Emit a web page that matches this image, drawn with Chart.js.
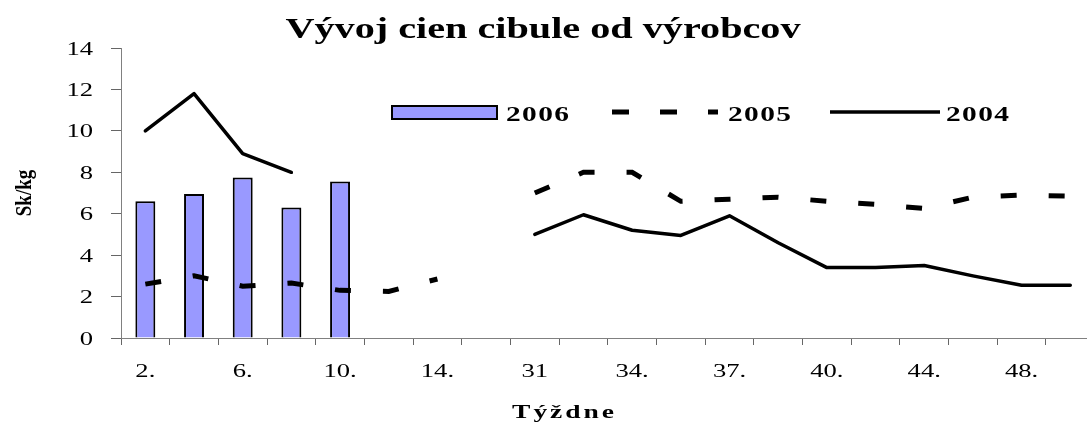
<!DOCTYPE html>
<html>
<head>
<meta charset="utf-8">
<script src="https://cdn.jsdelivr.net/npm/chart.js@4"></script>
<style>
  html, body { margin: 0; padding: 0; background: #fff; overflow: hidden; }
  #wrap { width: 1100px; height: 424px; }
</style>
</head>
<body>
<div id="wrap"><canvas id="onionChart" width="1100" height="424"></canvas></div>
<script>
// Weeks on the category axis (only every other one is labelled)
const weekLabels = ['2.', '4.', '6.', '8.', '10.', '12.', '14.', '16.', '31', '32.',
                    '34.', '35.', '37.', '38.', '40.', '42.', '44.', '46.', '48.', '50.'];
const yTicks = [0, 2, 4, 6, 8, 10, 12, 14];

// Prices Sk/kg
const prices2006 = [6.6, 6.95, 7.75, 6.3, 7.55, null, null, null, null, null,
                    null, null, null, null, null, null, null, null, null, null];
const prices2005 = [2.6, 3.0, 2.5, 2.65, 2.3, 2.25, 2.85, null, 7.0, 8.0,
                    8.0, 6.6, 6.7, 6.8, 6.6, 6.45, 6.25, 6.8, 6.9, 6.85];
const prices2004 = [10.0, 11.8, 8.9, 8.0, null, null, null, null, 5.0, 5.95,
                    5.2, 4.95, 5.9, 4.6, 3.4, 3.4, 3.5, 3.0, 2.55, 2.55];

const serif = '"Liberation Serif", "Times New Roman", serif';

// the original picture is stretched sideways, so text gets a horizontal scale
function drawText(ctx, text, x, y, font, sx, ls, align) {
    ctx.save();
    ctx.translate(x, y);
    ctx.scale(sx, 1);
    ctx.font = font;
    ctx.letterSpacing = ls + 'px';
    ctx.fillStyle = '#000';
    ctx.textAlign = align;
    ctx.textBaseline = 'alphabetic';
    ctx.fillText(text, align === 'center' ? ls / 2 : 0, 0);
    ctx.restore();
}

// Tick labels, titles + legend drawn by hand, Excel style
const decorPlugin = {
    id: 'decor',
    afterDraw(chart) {
        const ctx = chart.ctx;
        const ds = chart.data.datasets;
        const xs = chart.scales.x;
        const ys = chart.scales.y;
        const tickFont = '19px ' + serif;

        weekLabels.forEach((lab, i) => {
            if (i % 2 === 0) drawText(ctx, lab, xs.getPixelForValue(i), xs.top + 39, tickFont, 1.4, 0, 'center');
        });
        yTicks.forEach(v => {
            drawText(ctx, String(v), 93, ys.getPixelForValue(v) + 6.5, tickFont, 1.4, 0, 'right');
        });

        drawText(ctx, 'Vývoj cien cibule od výrobcov', 543, 38, 'bold 30px ' + serif, 1.34, 0, 'center');
        drawText(ctx, 'Týždne', 563, 418, 'bold 19px ' + serif, 1.45, 2, 'center');

        // y title, rotated; drawn a bit squeezed like the original
        ctx.save();
        ctx.translate(31, 193);
        ctx.rotate(-Math.PI / 2);
        ctx.scale(1, 1.25);
        ctx.font = 'bold 19px ' + serif;
        ctx.fillStyle = '#000';
        ctx.textAlign = 'center';
        ctx.fillText('Sk/kg', 0, 0);
        ctx.restore();

        // legend
        const ly = 112;
        ctx.save();
        ctx.fillStyle = ds[0].backgroundColor;
        ctx.strokeStyle = ds[0].borderColor;
        ctx.lineWidth = 2;
        ctx.fillRect(392, 106, 105, 13);
        ctx.strokeRect(392, 106, 105, 13);

        ctx.strokeStyle = ds[1].borderColor;
        ctx.lineWidth = ds[1].borderWidth;
        ctx.setLineDash([17, 31]);
        ctx.beginPath();
        ctx.moveTo(612, ly);
        ctx.lineTo(718, ly);
        ctx.stroke();

        ctx.setLineDash([]);
        ctx.strokeStyle = ds[2].borderColor;
        ctx.lineWidth = ds[2].borderWidth;
        ctx.beginPath();
        ctx.moveTo(830, ly);
        ctx.lineTo(940, ly);
        ctx.stroke();
        ctx.restore();

        const lf = 'bold 21px ' + serif;
        drawText(ctx, ds[0].label, 506, 121, lf, 1.4, 1, 'left');
        drawText(ctx, ds[1].label, 728, 121, lf, 1.4, 1, 'left');
        drawText(ctx, ds[2].label, 946, 121, lf, 1.4, 1, 'left');
    }
};

const ctx = document.getElementById('onionChart').getContext('2d');
new Chart(ctx, {
    type: 'bar',
    data: {
        labels: weekLabels,
        datasets: [
            {
                type: 'bar',
                label: '2006',
                data: prices2006,
                backgroundColor: '#9999FF',
                borderColor: '#000000',
                borderWidth: 2,
                barPercentage: 0.41,
                categoryPercentage: 1,
                order: 3
            },
            {
                type: 'line',
                label: '2005',
                data: prices2005,
                borderColor: '#000000',
                borderWidth: 5,
                borderDash: [16, 32],
                borderCapStyle: 'butt',
                pointRadius: 0,
                spanGaps: false,
                tension: 0,
                order: 2
            },
            {
                type: 'line',
                label: '2004',
                data: prices2004,
                borderColor: '#000000',
                borderWidth: 3.5,
                borderCapStyle: 'round',
                borderJoinStyle: 'round',
                pointRadius: 0,
                spanGaps: false,
                tension: 0,
                order: 1
            }
        ]
    },
    options: {
        responsive: false,
        animation: false,
        devicePixelRatio: 1,
        layout: { padding: { top: 48, left: 0, right: 5.4, bottom: 0 } },
        plugins: {
            legend: { display: false },
            title: { display: false },
            tooltip: { enabled: false }
        },
        scales: {
            x: {
                offset: true,
                grid: { display: true, drawOnChartArea: false, offset: true, tickLength: 7, tickColor: '#666' },
                border: { display: true, color: '#808080', width: 1 },
                ticks: { display: false, autoSkip: false },
                afterFit: s => { s.height = 86; }
            },
            y: {
                min: yTicks[0],
                max: yTicks[yTicks.length - 1],
                afterBuildTicks: s => { s.ticks = yTicks.map(v => ({ value: v })); },
                grid: { display: true, drawOnChartArea: false, tickLength: 10, tickColor: '#666' },
                border: { display: true, color: '#808080', width: 1 },
                ticks: { display: false },
                afterFit: s => { s.width = 121; }
            }
        }
    },
    plugins: [decorPlugin]
});
</script>
</body>
</html>
